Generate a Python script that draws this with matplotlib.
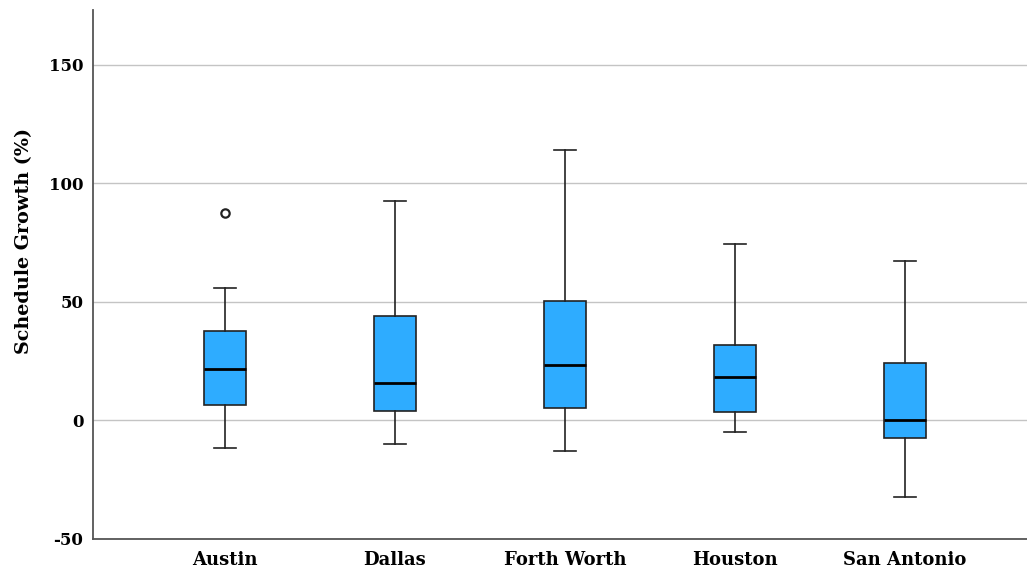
import matplotlib
matplotlib.use("Agg")
import matplotlib.pyplot as plt

categories = ["Austin", "Dallas", "Forth Worth", "Houston", "San Antonio"]
whislo = [-11.5, -10.0, -13.1, -5.1, -32.5]
q1 = [6.3, 3.8, 5.1, 3.4, -7.3]
med = [21.8, 15.7, 23.2, 18.5, 0.3]
q3 = [37.5, 44.2, 50.5, 31.6, 24.1]
whishi = [55.7, 92.6, 114.1, 74.5, 67.4]
fliers = [[87.6], [], [], [], []]
yticks = [-50, 0, 50, 100, 150]

plt.rcParams['font.family'] = ['DejaVu Serif']

fig = plt.figure(figsize=(10.27, 5.72), dpi=100)
ax = fig.add_axes([0.0906, 0.0577, 0.9094, 0.9248])

stats = []
for i, c in enumerate(categories):
    stats.append(dict(label=c, whislo=whislo[i], q1=q1[i], med=med[i],
                      q3=q3[i], whishi=whishi[i], fliers=fliers[i]))

pos = list(range(len(categories)))
ax.bxp(stats, positions=pos, widths=0.25, patch_artist=True,
       showfliers=True, capwidths=0.13,
       boxprops=dict(facecolor="#2EACFF", edgecolor="#222222", linewidth=1.2),
       medianprops=dict(color="black", linewidth=2.0),
       whiskerprops=dict(color="#222222", linewidth=1.2),
       capprops=dict(color="#222222", linewidth=1.2),
       flierprops=dict(marker="o", markersize=6, markerfacecolor="white",
                       markeredgecolor="#222222", markeredgewidth=1.6))

ax.set_xlim(-0.776, 4.718)
ax.set_ylim(-50, 173)
ax.set_yticks(yticks)
ax.set_yticklabels([str(v) for v in yticks], fontsize=12, fontweight="bold")
ax.set_xticks(pos)
ax.set_xticklabels(categories, fontsize=13, fontweight="bold")
ax.tick_params(axis="y", length=0, pad=7)
ax.tick_params(axis="x", length=0, pad=9)
ax.set_ylabel("Schedule Growth (%)", fontsize=13.8, fontweight="bold")
ax.yaxis.set_label_coords(-0.064, 0.564)

ax.grid(axis="y", color="#c4c4c4", linewidth=1.0)
ax.set_axisbelow(True)
for s in ["top", "right"]:
    ax.spines[s].set_visible(False)
for s in ["left", "bottom"]:
    ax.spines[s].set_color("#555555")
    ax.spines[s].set_linewidth(1.3)

fig.savefig("out.png", dpi=100)
